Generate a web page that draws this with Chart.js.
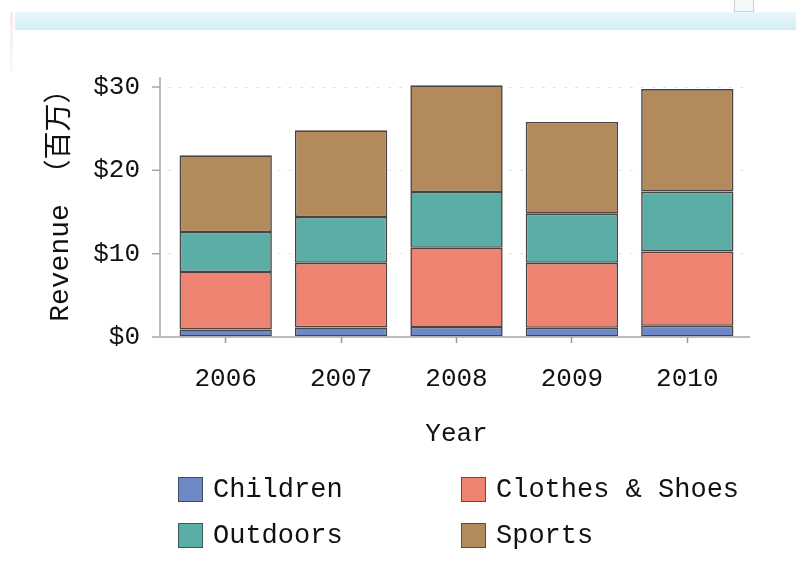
<!DOCTYPE html>
<html>
<head>
<meta charset="utf-8">
<script src="https://cdn.jsdelivr.net/npm/chart.js@4/dist/chart.umd.min.js"></script>
<style>
  html, body { margin: 0; padding: 0; background: #ffffff; }
  #wrap { position: relative; width: 796px; height: 572px; overflow: hidden; background: #fff; }
  #band { position: absolute; left: 15px; top: 12px; width: 781px; height: 18px;
          background: linear-gradient(#e9f7fc, #d3eef6); }
  #edge { position: absolute; left: 10px; top: 12px; width: 3px; height: 60px;
          background: linear-gradient(#f6e9f2, #fdf7fb); }
  #icon { position: absolute; left: 734px; top: -6px; width: 18px; height: 16px;
          border: 1px solid #c9d3d8; background: #f4f8fa; }
  #c { position: absolute; left: 0; top: 0; }
  #legend { position: absolute; left: 0; top: 0; width: 796px; height: 572px; pointer-events: none;
            font-family: 'Liberation Mono', 'Noto Sans CJK SC', monospace; font-size: 27px; color: #111; }
  .item { position: absolute; display: flex; align-items: center; height: 25px; white-space: pre; }
  .sw { width: 23px; height: 23px; border: 1px solid rgba(40,30,30,0.6); margin-right: 10px; box-sizing: content-box; }
</style>
</head>
<body>
<div id="wrap">
  <div id="band"></div>
  <div id="edge"></div>
  <div id="icon"></div>
  <canvas id="c" width="796" height="572"></canvas>
  <div id="legend"></div>
</div>
<script>
// ---- data ----
const years = ['2006', '2007', '2008', '2009', '2010'];
const children = [0.9, 1.15, 1.2, 1.1, 1.35];
const clothesShoes = [6.9, 7.75, 9.5, 7.8, 8.9];
const outdoors = [4.8, 5.5, 6.7, 5.9, 7.2];
const sports = [9.2, 10.4, 12.8, 11.0, 12.3];
const yTickValues = [0, 10, 20, 30];
const seriesNames = ['Children', 'Clothes & Shoes', 'Outdoors', 'Sports'];
const yTitle = 'Revenue （百万）';
const xTitle = 'Year';

const colors = ['#6e87c6', '#ee8371', '#5aaea5', '#b38a5c'];
const seriesData = [children, clothesShoes, outdoors, sports];

const FONT = "'Liberation Mono', 'Noto Sans CJK SC', monospace";
const AXIS_X = 160;   // where the y axis line sits
const AXIS_RIGHT = 750;

const datasets = seriesNames.map((name, i) => ({
  label: name,
  data: seriesData[i],
  backgroundColor: colors[i],
  borderColor: 'rgba(55,45,45,0.9)',
  borderWidth: 1.6,
  borderSkipped: false,
  barPercentage: 0.8,
  categoryPercentage: 1.0,
  stack: 's'
}));

// axis lines and y tick marks, positioned from the scales
const axisLines = {
  id: 'axisLines',
  afterDatasetsDraw(chart) {
    const { ctx, scales: { x, y }, chartArea } = chart;
    ctx.save();
    ctx.strokeStyle = '#a8a8a8';
    ctx.lineWidth = 1.5;
    ctx.beginPath();
    ctx.moveTo(AXIS_X, chartArea.top);
    ctx.lineTo(AXIS_X, y.getPixelForValue(0));
    ctx.moveTo(AXIS_X, y.getPixelForValue(0));
    ctx.lineTo(AXIS_RIGHT, y.getPixelForValue(0));
    yTickValues.forEach(v => {
      const py = y.getPixelForValue(v);
      ctx.moveTo(AXIS_X - 8, py);
      ctx.lineTo(AXIS_X, py);
    });
    ctx.stroke();
    ctx.restore();
  }
};

const chart = new Chart(document.getElementById('c'), {
  type: 'bar',
  data: { labels: years, datasets },
  plugins: [axisLines],
  options: {
    responsive: false,
    animation: false,
    layout: { padding: { left: 44, right: 51, top: 77, bottom: 122 } },
    plugins: { legend: { display: false }, tooltip: { enabled: false } },
    scales: {
      x: {
        stacked: true,
        offset: true,
        grid: { display: true, drawOnChartArea: false, drawTicks: true, offset: false,
                tickLength: 6, tickColor: '#9a9a9a', tickWidth: 1.5 },
        border: { display: false },
        ticks: { color: '#111', font: { family: FONT, size: 26 }, padding: 21 },
        title: { display: true, text: xTitle, color: '#111', font: { family: FONT, size: 26 }, padding: 0 },
        afterFit: (s) => { s.height = 113; }
      },
      y: {
        stacked: true,
        min: 0,
        max: 31.2,
        afterBuildTicks: (s) => { s.ticks = yTickValues.map(v => ({ value: v })); },
        grid: { display: true, drawOnChartArea: true, drawTicks: false,
                color: (ctx) => ctx.tick && ctx.tick.value === 0 ? 'rgba(0,0,0,0)' : '#e2e2e2',
                lineWidth: 1 },
        border: { display: false, dash: [3, 8] },
        ticks: { color: '#111', font: { family: FONT, size: 26 }, padding: 28,
                 callback: (v) => '$' + v },
        title: { display: true, text: ' ' + yTitle, color: '#111', font: { family: FONT, size: 28 }, padding: 0 },
        afterFit: (s) => { s.width = 124; }
      }
    }
  }
});

// legend built from the chart's datasets
const legend = document.getElementById('legend');
const pos = [[178, 477], [461, 477], [178, 523], [461, 523]];
chart.data.datasets.forEach((ds, i) => {
  const it = document.createElement('div');
  it.className = 'item';
  it.style.left = pos[i][0] + 'px';
  it.style.top = pos[i][1] + 'px';
  const sw = document.createElement('div');
  sw.className = 'sw';
  sw.style.background = ds.backgroundColor;
  const tx = document.createElement('span');
  tx.textContent = ds.label;
  it.appendChild(sw);
  it.appendChild(tx);
  legend.appendChild(it);
});
</script>
</body>
</html>
